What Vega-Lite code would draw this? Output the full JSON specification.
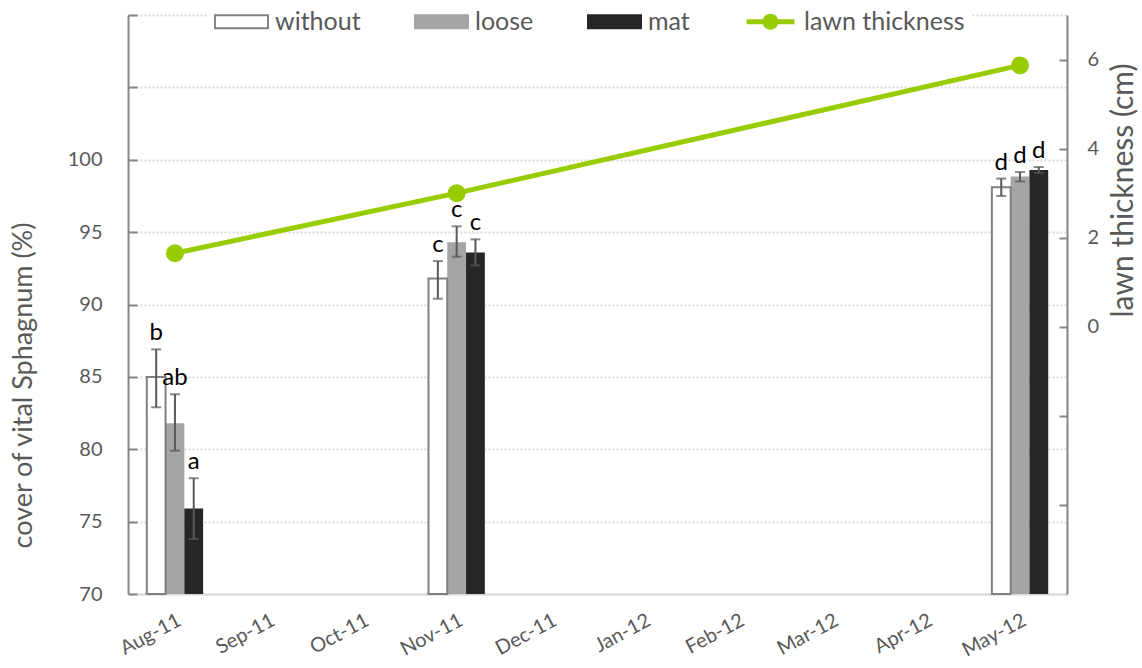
{
  "$schema": "https://vega.github.io/schema/vega-lite/v6.json",
  "width": 939,
  "height": 579,
  "autosize": {"type": "none"},
  "padding": {"left": 128, "top": 15, "right": 75, "bottom": 74},
  "background": "white",
  "config": {
    "font": "Lato",
    "view": {"stroke": null},
    "axis": {
      "labelFont": "Lato",
      "titleFont": "Lato",
      "labelColor": "#595959",
      "titleColor": "#595959",
      "labelFontSize": 20,
      "titleFontSize": 27,
      "titleFontWeight": "normal"
    }
  },
  "datasets": {
    "cover": [
      {"month": "Aug-11", "treatment": "without", "mean": 85.0, "lo": 82.9, "hi": 86.9, "letter": "b"},
      {"month": "Aug-11", "treatment": "loose", "mean": 81.8, "lo": 79.9, "hi": 83.8, "letter": "ab"},
      {"month": "Aug-11", "treatment": "mat", "mean": 75.9, "lo": 73.8, "hi": 78.0, "letter": "a"},
      {"month": "Nov-11", "treatment": "without", "mean": 91.8, "lo": 90.4, "hi": 93.0, "letter": "c"},
      {"month": "Nov-11", "treatment": "loose", "mean": 94.3, "lo": 93.3, "hi": 95.4, "letter": "c"},
      {"month": "Nov-11", "treatment": "mat", "mean": 93.6, "lo": 92.7, "hi": 94.5, "letter": "c"},
      {"month": "May-12", "treatment": "without", "mean": 98.1, "lo": 97.5, "hi": 98.7, "letter": "d"},
      {"month": "May-12", "treatment": "loose", "mean": 98.85, "lo": 98.5, "hi": 99.15, "letter": "d"},
      {"month": "May-12", "treatment": "mat", "mean": 99.3, "lo": 99.1, "hi": 99.5, "letter": "d"}
    ],
    "lawn": [
      {"month": "Aug-11", "date": "2011-08-01", "thickness": 1.65},
      {"month": "Nov-11", "date": "2011-11-01", "thickness": 3.0},
      {"month": "May-12", "date": "2012-05-01", "thickness": 5.87}
    ]
  },
  "encoding": {
    "x": {
      "field": "month",
      "type": "ordinal",
      "scale": {
        "domain": ["Aug-11", "Sep-11", "Oct-11", "Nov-11", "Dec-11", "Jan-12", "Feb-12", "Mar-12", "Apr-12", "May-12"],
        "paddingInner": 0,
        "paddingOuter": 0
      },
      "axis": {
        "title": null,
        "labelAngle": -28,
        "labelAlign": "right",
        "labelBaseline": "top",
        "labelPadding": 16,
        "ticks": false,
        "grid": false,
        "domainColor": "#d9d9d9",
        "domainWidth": 2
      }
    }
  },
  "layer": [
    {
      "data": {"name": "cover"},
      "encoding": {
        "xOffset": {
          "field": "treatment",
          "type": "nominal",
          "scale": {"domain": ["without", "loose", "mat"], "paddingInner": 0, "paddingOuter": 1.07}
        }
      },
      "layer": [
        {
          "mark": {"type": "bar"},
          "encoding": {
            "y": {
              "field": "mean",
              "type": "quantitative",
              "title": "cover of vital Sphagnum (%)",
              "scale": {"domain": [70, 110], "nice": false, "zero": false},
              "axis": {
                "values": [70, 75, 80, 85, 90, 95, 100, 105, 110],
                "labelExpr": "datum.value <= 100 ? datum.label : ''",
                "grid": true,
                "gridColor": "#d9d9d9",
                "gridDash": [2, 2],
                "gridWidth": 2,
                "tickSize": -9,
                "tickColor": "#868686",
                "tickWidth": 2,
                "domainColor": "#868686",
                "domainWidth": 2,
                "labelPadding": 35,
                "titlePadding": 30,
                "titleY": 370
              }
            },
            "y2": {"datum": 70},
            "color": {
              "field": "treatment",
              "type": "nominal",
              "scale": {
                "domain": ["without", "loose", "mat", "lawn thickness"],
                "range": ["#808080", "#a5a5a5", "#262626", "#99cc00"]
              },
              "legend": {
                "orient": "none",
                "legendX": 80,
                "legendY": -27,
                "direction": "horizontal",
                "title": null,
                "fillColor": "white",
                "padding": 6,
                "symbolSize": 3025,
                "labelFontSize": 25,
                "labelFont": "Lato",
                "labelColor": "#595959",
                "labelOffset": 6,
                "labelLimit": 400,
                "columnPadding": 53,
                "symbolOpacity": 1,
                "symbolStrokeWidth": 0,
                "symbolType": {"expr": "datum.value === 'lawn thickness' ? 'M-0.87,-0.09H0.87V0.09H-0.87Z M-0.29,0A0.29,0.29 0 1,1 0.29,0A0.29,0.29 0 1,1 -0.29,0Z' : datum.value === 'without' ? 'M-1,-0.27H1V0.27H-1Z M-0.93,-0.2V0.2H0.93V-0.2Z' : 'M-1,-0.27H1V0.27H-1Z'"}
              }
            }
          }
        },
        {
          "transform": [{"filter": "datum.treatment === 'without'"}],
          "mark": {"type": "bar", "fill": "#ffffff", "stroke": "#808080", "strokeWidth": 2},
          "encoding": {
            "y": {"field": "mean", "type": "quantitative", "title": "cover of vital Sphagnum (%)"},
            "y2": {"datum": 70}
          }
        },
        {
          "mark": {"type": "rule", "color": "#595959", "strokeWidth": 2},
          "encoding": {
            "y": {"field": "lo", "type": "quantitative", "title": "cover of vital Sphagnum (%)"},
            "y2": {"field": "hi"}
          }
        },
        {
          "mark": {"type": "tick", "color": "#595959", "thickness": 2, "size": 10, "orient": "horizontal"},
          "encoding": {
            "y": {"field": "lo", "type": "quantitative", "title": "cover of vital Sphagnum (%)"}
          }
        },
        {
          "mark": {"type": "tick", "color": "#595959", "thickness": 2, "size": 10, "orient": "horizontal"},
          "encoding": {
            "y": {"field": "hi", "type": "quantitative", "title": "cover of vital Sphagnum (%)"}
          }
        },
        {
          "mark": {"type": "text", "font": "Lato", "fontSize": 24, "color": "#000000", "baseline": "alphabetic", "dy": -9},
          "encoding": {
            "y": {"field": "hi", "type": "quantitative", "title": "cover of vital Sphagnum (%)"},
            "text": {"field": "letter"}
          }
        }
      ]
    },
    {
      "data": {"name": "lawn"},
      "mark": {"type": "line", "strokeWidth": 5, "point": {"filled": true, "size": 320}},
      "encoding": {
        "y": {
          "field": "thickness",
          "type": "quantitative",
          "title": "lawn thickness (cm)",
          "scale": {"domain": [-6, 7], "nice": false, "zero": false},
          "axis": {
            "orient": "right",
            "values": [-4, -2, 0, 2, 4, 6],
            "labelExpr": "datum.value >= 0 ? datum.label : ''",
            "grid": false,
            "tickSize": -8,
            "tickColor": "#868686",
            "tickWidth": 2,
            "domainColor": "#868686",
            "domainWidth": 2,
            "labelPadding": 28,
            "titlePadding": 10,
            "titleFontSize": 30,
            "titleAngle": -90,
            "titleBaseline": "top",
            "titleY": 175
          }
        },
        "color": {"datum": "lawn thickness"},
        "order": {"field": "date", "type": "temporal"}
      }
    }
  ],
  "resolve": {"scale": {"y": "independent"}}
}
